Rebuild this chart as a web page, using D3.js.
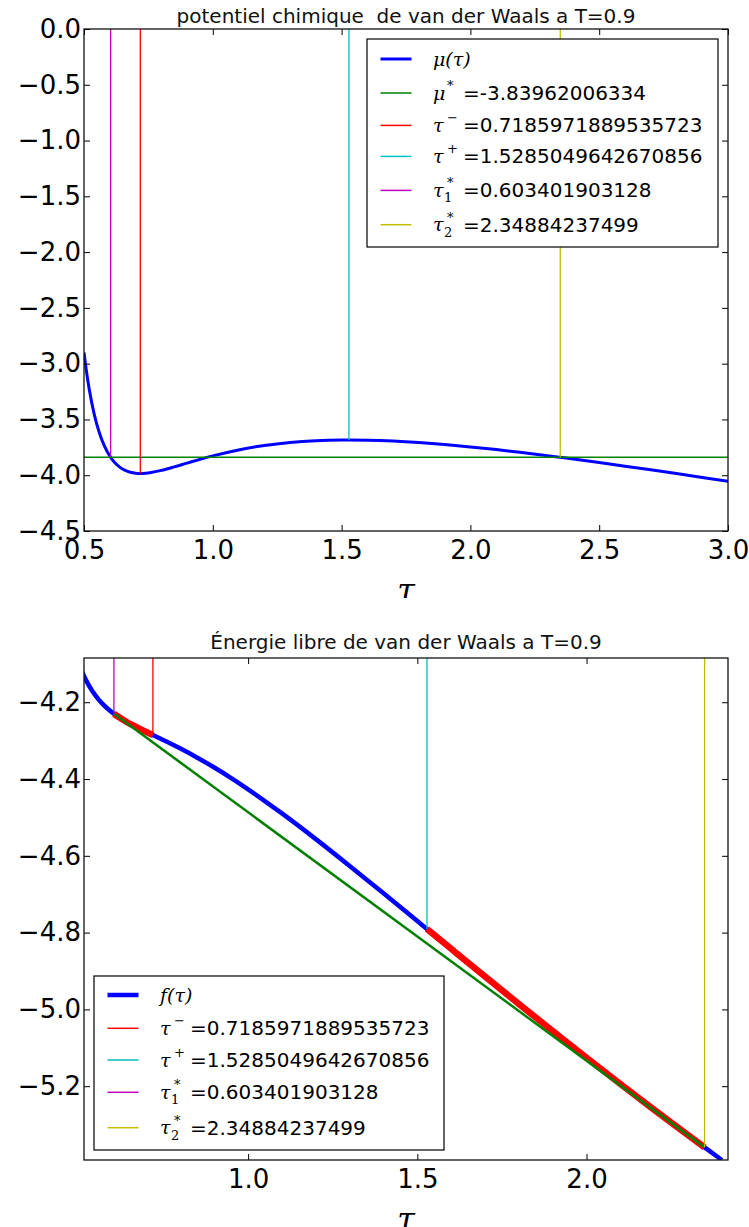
<!DOCTYPE html>
<html><head><meta charset="utf-8">
<script src="https://cdn.jsdelivr.net/npm/d3@7"></script>
<style>body{margin:0;background:#fff}svg{display:block}</style>
</head><body>
<script>
// ---------------- DATA ----------------
const topTitle = "potentiel chimique\u00a0 de van der Waals a T=0.9";
const botTitle = "Énergie libre de van der Waals a T=0.9";
const xLabel = "τ";

// chemical potential mu(tau)
const tauMu = [0.50,0.51,0.52,0.54,0.56,0.58,0.60,0.6034,0.62,0.64,0.66,0.68,0.70,0.7186,0.74,0.76,0.80,0.85,0.90,0.95,1.0,1.1,1.2,1.3,1.4,1.5,1.5285,1.6,1.7,1.8,1.9,2.0,2.1,2.2,2.3,2.3488,2.4,2.5,2.6,2.7,2.8,2.9,3.0];
const muVals = [-2.8997,-3.0760,-3.2245,-3.4562,-3.6226,-3.7422,-3.8278,-3.8396,-3.8880,-3.9295,-3.9567,-3.9733,-3.9817,-3.9839,-3.9814,-3.9755,-3.9565,-3.9255,-3.8917,-3.8582,-3.8269,-3.7733,-3.7335,-3.7064,-3.6906,-3.6842,-3.6839,-3.6857,-3.6937,-3.7070,-3.7247,-3.7460,-3.7701,-3.7966,-3.8251,-3.8396,-3.8551,-3.8864,-3.9187,-3.9517,-3.9854,-4.0195,-4.0540];

// free energy f(tau)
const tauF = [0.50,0.51,0.52,0.54,0.56,0.58,0.60,0.6034,0.62,0.64,0.66,0.68,0.70,0.7186,0.74,0.76,0.80,0.85,0.90,0.95,1.0,1.1,1.2,1.3,1.4,1.5,1.5285,1.6,1.7,1.8,1.9,2.0,2.1,2.2,2.3,2.3488,2.4];
const fVals = [-4.0997,-4.1219,-4.1410,-4.1716,-4.1949,-4.2131,-4.2278,-4.2300,-4.2400,-4.2507,-4.2603,-4.2692,-4.2778,-4.2856,-4.2946,-4.3031,-4.3208,-4.3445,-4.3701,-4.3976,-4.4269,-4.4896,-4.5565,-4.6263,-4.6977,-4.7699,-4.7906,-4.8423,-4.9144,-4.9858,-5.0564,-5.1260,-5.1944,-5.2616,-5.3275,-5.3593,-5.3922];

const muStar = -3.83962006334;
const tauMinus = 0.7185971889535723;
const tauPlus = 1.5285049642670856;
const tau1 = 0.603401903128;
const tau2 = 2.34884237499;

const muAtTauMinus = -3.9839, muAtTauPlus = -3.6839;
const fAtTau1 = -4.2300, fAtTauMinus = -4.2856, fAtTauPlus = -4.7906, fAtTau2 = -5.3593;

const topXDomain = [0.5, 3.0], topYDomain = [-4.5, 0.0];
const botXDomain = [0.515, 2.418], botYDomain = [-5.3922, -4.0848];
const topXTicks = [0.5,1.0,1.5,2.0,2.5,3.0];
const topYTicks = [0.0,-0.5,-1.0,-1.5,-2.0,-2.5,-3.0,-3.5,-4.0,-4.5];
const botXTicks = [1.0,1.5,2.0];
const botYTicks = [-4.2,-4.4,-4.6,-4.8,-5.0,-5.2];

const C = {b:"#0000ff", g:"#008000", r:"#ff0000", c:"#00bfbf", m:"#bf00bf", y:"#bfbf00"};

// ---------------- DRAW ----------------
const W = 749, H = 1227;
const svg = d3.select("body").append("svg").attr("width", W).attr("height", H)
  .style("font-family", "'DejaVu Sans', sans-serif");
svg.append("rect").attr("width", W).attr("height", H).attr("fill", "#fff");
const defs = svg.append("defs");
function clip(id, x, y, w, h) {
  defs.append("clipPath").attr("id", id).append("rect")
    .attr("x", x).attr("y", y).attr("width", w).attr("height", h);
}
clip("panelTop", 0, 0, W, 598);
clip("panelBot", 0, 600, W, H - 600);

const fmt = d3.format(".1f");

function axesFrame(g, x, y, P, xt, yt) {
  g.append("g").attr("transform", `translate(0,${P.b})`)
    .call(d3.axisBottom(x).tickValues(xt).tickFormat(fmt).tickSizeInner(-6).tickSizeOuter(0).tickPadding(10));
  g.append("g").attr("transform", `translate(${P.l},0)`)
    .call(d3.axisLeft(y).tickValues(yt).tickFormat(fmt).tickSizeInner(-6).tickSizeOuter(0).tickPadding(3));
  g.append("g").attr("transform", `translate(0,${P.t})`)
    .call(d3.axisTop(x).tickValues(xt).tickFormat("").tickSizeInner(-6).tickSizeOuter(0));
  g.append("g").attr("transform", `translate(${P.r},0)`)
    .call(d3.axisRight(y).tickValues(yt).tickFormat("").tickSizeInner(-6).tickSizeOuter(0));
  g.selectAll(".domain").remove();
  g.selectAll(".tick line").attr("stroke", "#000").attr("stroke-width", 1);
  g.selectAll(".tick text").attr("font-size", 26).attr("font-family", "'DejaVu Sans', sans-serif").attr("fill", "#000");
  g.append("rect").attr("x", P.l).attr("y", P.t).attr("width", P.r - P.l).attr("height", P.b - P.t)
    .attr("fill", "none").attr("stroke", "#111").attr("stroke-width", 1.3);
}

function legend(g, x0, y0, w, h, items, rows) {
  g.append("rect").attr("x", x0).attr("y", y0).attr("width", w).attr("height", h)
    .attr("fill", "#fff").attr("stroke", "#000").attr("stroke-width", 1.2);
  items.forEach((it, i) => {
    const cy = y0 + rows[i];
    g.append("line").attr("x1", x0 + 13.5).attr("x2", x0 + 44.5).attr("y1", cy).attr("y2", cy)
      .attr("stroke", it.color).attr("stroke-width", it.lw);
    const tx = x0 + 66;
    g.append("text").attr("x", tx).attr("y", cy + 6.5)
      .attr("font-family", "'DejaVu Serif', serif").attr("font-style", "italic").attr("font-size", 19)
      .text(it.sym);
    if (it.sup) g.append("text").attr("x", tx + 14).attr("y", cy - 3)
      .attr("font-family", "'DejaVu Serif', serif").attr("font-size", 13).text(it.sup);
    if (it.sub) g.append("text").attr("x", tx + 11).attr("y", cy + 12)
      .attr("font-family", "'DejaVu Serif', serif").attr("font-size", 13).text(it.sub);
    if (it.value !== undefined) g.append("text").attr("x", tx + 30).attr("y", cy + 6.8)
      .attr("font-size", 20).attr("fill", "#000").text("=" + String(it.value));
  });
}

// ======== TOP PANEL ========
const gT = svg.append("g").attr("clip-path", "url(#panelTop)");
const P1 = {l: 84, r: 728, t: 29, b: 531};
const x1 = d3.scaleLinear().domain(topXDomain).range([P1.l, P1.r]);
const y1 = d3.scaleLinear().domain(topYDomain).range([P1.b, P1.t]);
clip("plot1", P1.l, P1.t, P1.r - P1.l, P1.b - P1.t);
const plot1 = gT.append("g").attr("clip-path", "url(#plot1)");

const line1 = d3.line().x(d => x1(d[0])).y(d => y1(d[1])).curve(d3.curveMonotoneX);
plot1.append("path").datum(d3.zip(tauMu, muVals)).attr("d", line1)
  .attr("fill", "none").attr("stroke", C.b).attr("stroke-width", 3);
plot1.append("line").attr("x1", x1(topXDomain[0])).attr("x2", x1(topXDomain[1]))
  .attr("y1", y1(muStar)).attr("y2", y1(muStar)).attr("stroke", C.g).attr("stroke-width", 1.5);
const vTop = [[tauMinus, muAtTauMinus, C.r], [tauPlus, muAtTauPlus, C.c], [tau1, muStar, C.m], [tau2, muStar, C.y]];
vTop.forEach(([t, v, c]) => {
  plot1.append("line").attr("x1", x1(t)).attr("x2", x1(t)).attr("y1", y1(topYDomain[1])).attr("y2", y1(v))
    .attr("stroke", c).attr("stroke-width", 1.3);
});
axesFrame(gT, x1, y1, P1, topXTicks, topYTicks);
gT.append("text").attr("x", (P1.l + P1.r) / 2).attr("y", 23).attr("text-anchor", "middle")
  .attr("font-size", 20).attr("fill", "#111").text(topTitle);
gT.append("text").attr("x", (P1.l + P1.r) / 2).attr("y", P1.b + 70).attr("text-anchor", "middle")
  .attr("font-family", "'DejaVu Serif', serif").attr("font-style", "italic").attr("font-size", 32).text(xLabel);
legend(gT, P1.r - 10 - 351, P1.t + 10, 351, 208, [
  {color: C.b, lw: 3, sym: "μ(τ)"},
  {color: C.g, lw: 1.5, sym: "μ", sup: "*", value: muStar},
  {color: C.r, lw: 1.5, sym: "τ", sup: "−", value: tauMinus},
  {color: C.c, lw: 1.5, sym: "τ", sup: "+", value: tauPlus},
  {color: C.m, lw: 1.5, sym: "τ", sup: "*", sub: "1", value: tau1},
  {color: C.y, lw: 1.5, sym: "τ", sup: "*", sub: "2", value: tau2}
], [20, 54, 86.4, 117.4, 151.4, 185.7]);

// ======== BOTTOM PANEL ========
const gB = svg.append("g").attr("clip-path", "url(#panelBot)");
const P2 = {l: 84, r: 728, t: 658, b: 1160};
const x2 = d3.scaleLinear().domain(botXDomain).range([P2.l, P2.r]);
const y2 = d3.scaleLinear().domain(botYDomain).range([P2.b, P2.t]);
clip("plot2", P2.l, P2.t, P2.r - P2.l, P2.b - P2.t);
const plot2 = gB.append("g").attr("clip-path", "url(#plot2)");
const line2 = d3.line().x(d => x2(d[0])).y(d => y2(d[1])).curve(d3.curveMonotoneX);
const fPts = d3.zip(tauF, fVals);
plot2.append("path").datum(fPts).attr("d", line2)
  .attr("fill", "none").attr("stroke", C.b).attr("stroke-width", 4.5);
const eps = 1e-3;
const seg1 = fPts.filter(d => d[0] >= tau1 - eps && d[0] <= tauMinus + eps);
const seg2 = fPts.filter(d => d[0] >= tauPlus - eps && d[0] <= tau2 + eps);
[seg1, seg2].forEach(s => plot2.append("path").datum(s).attr("d", line2)
  .attr("fill", "none").attr("stroke", C.r).attr("stroke-width", 6.5));
plot2.append("line").attr("x1", x2(tau1)).attr("y1", y2(fAtTau1)).attr("x2", x2(tau2)).attr("y2", y2(fAtTau2))
  .attr("stroke", C.g).attr("stroke-width", 2.5);
const vBot = [[tauMinus, fAtTauMinus, C.r], [tauPlus, fAtTauPlus, C.c], [tau1, fAtTau1, C.m], [tau2, fAtTau2, C.y]];
vBot.forEach(([t, v, c]) => {
  plot2.append("line").attr("x1", x2(t)).attr("x2", x2(t)).attr("y1", y2(botYDomain[1])).attr("y2", y2(v))
    .attr("stroke", c).attr("stroke-width", 1.3);
});
axesFrame(gB, x2, y2, P2, botXTicks, botYTicks);
gB.append("text").attr("x", (P2.l + P2.r) / 2).attr("y", 649).attr("text-anchor", "middle")
  .attr("font-size", 20).attr("fill", "#111").text(botTitle);
gB.append("text").attr("x", (P2.l + P2.r) / 2).attr("y", P2.b + 70).attr("text-anchor", "middle")
  .attr("font-family", "'DejaVu Serif', serif").attr("font-style", "italic").attr("font-size", 32).text(xLabel);
legend(gB, P2.l + 10, P2.b - 10 - 174, 350, 174, [
  {color: C.b, lw: 4.5, sym: "f(τ)"},
  {color: C.r, lw: 1.5, sym: "τ", sup: "−", value: tauMinus},
  {color: C.c, lw: 1.5, sym: "τ", sup: "+", value: tauPlus},
  {color: C.m, lw: 1.5, sym: "τ", sup: "*", sub: "1", value: tau1},
  {color: C.y, lw: 1.5, sym: "τ", sup: "*", sub: "2", value: tau2}
], [19, 52.3, 84, 116.3, 151.7]);
</script>
</body></html>
